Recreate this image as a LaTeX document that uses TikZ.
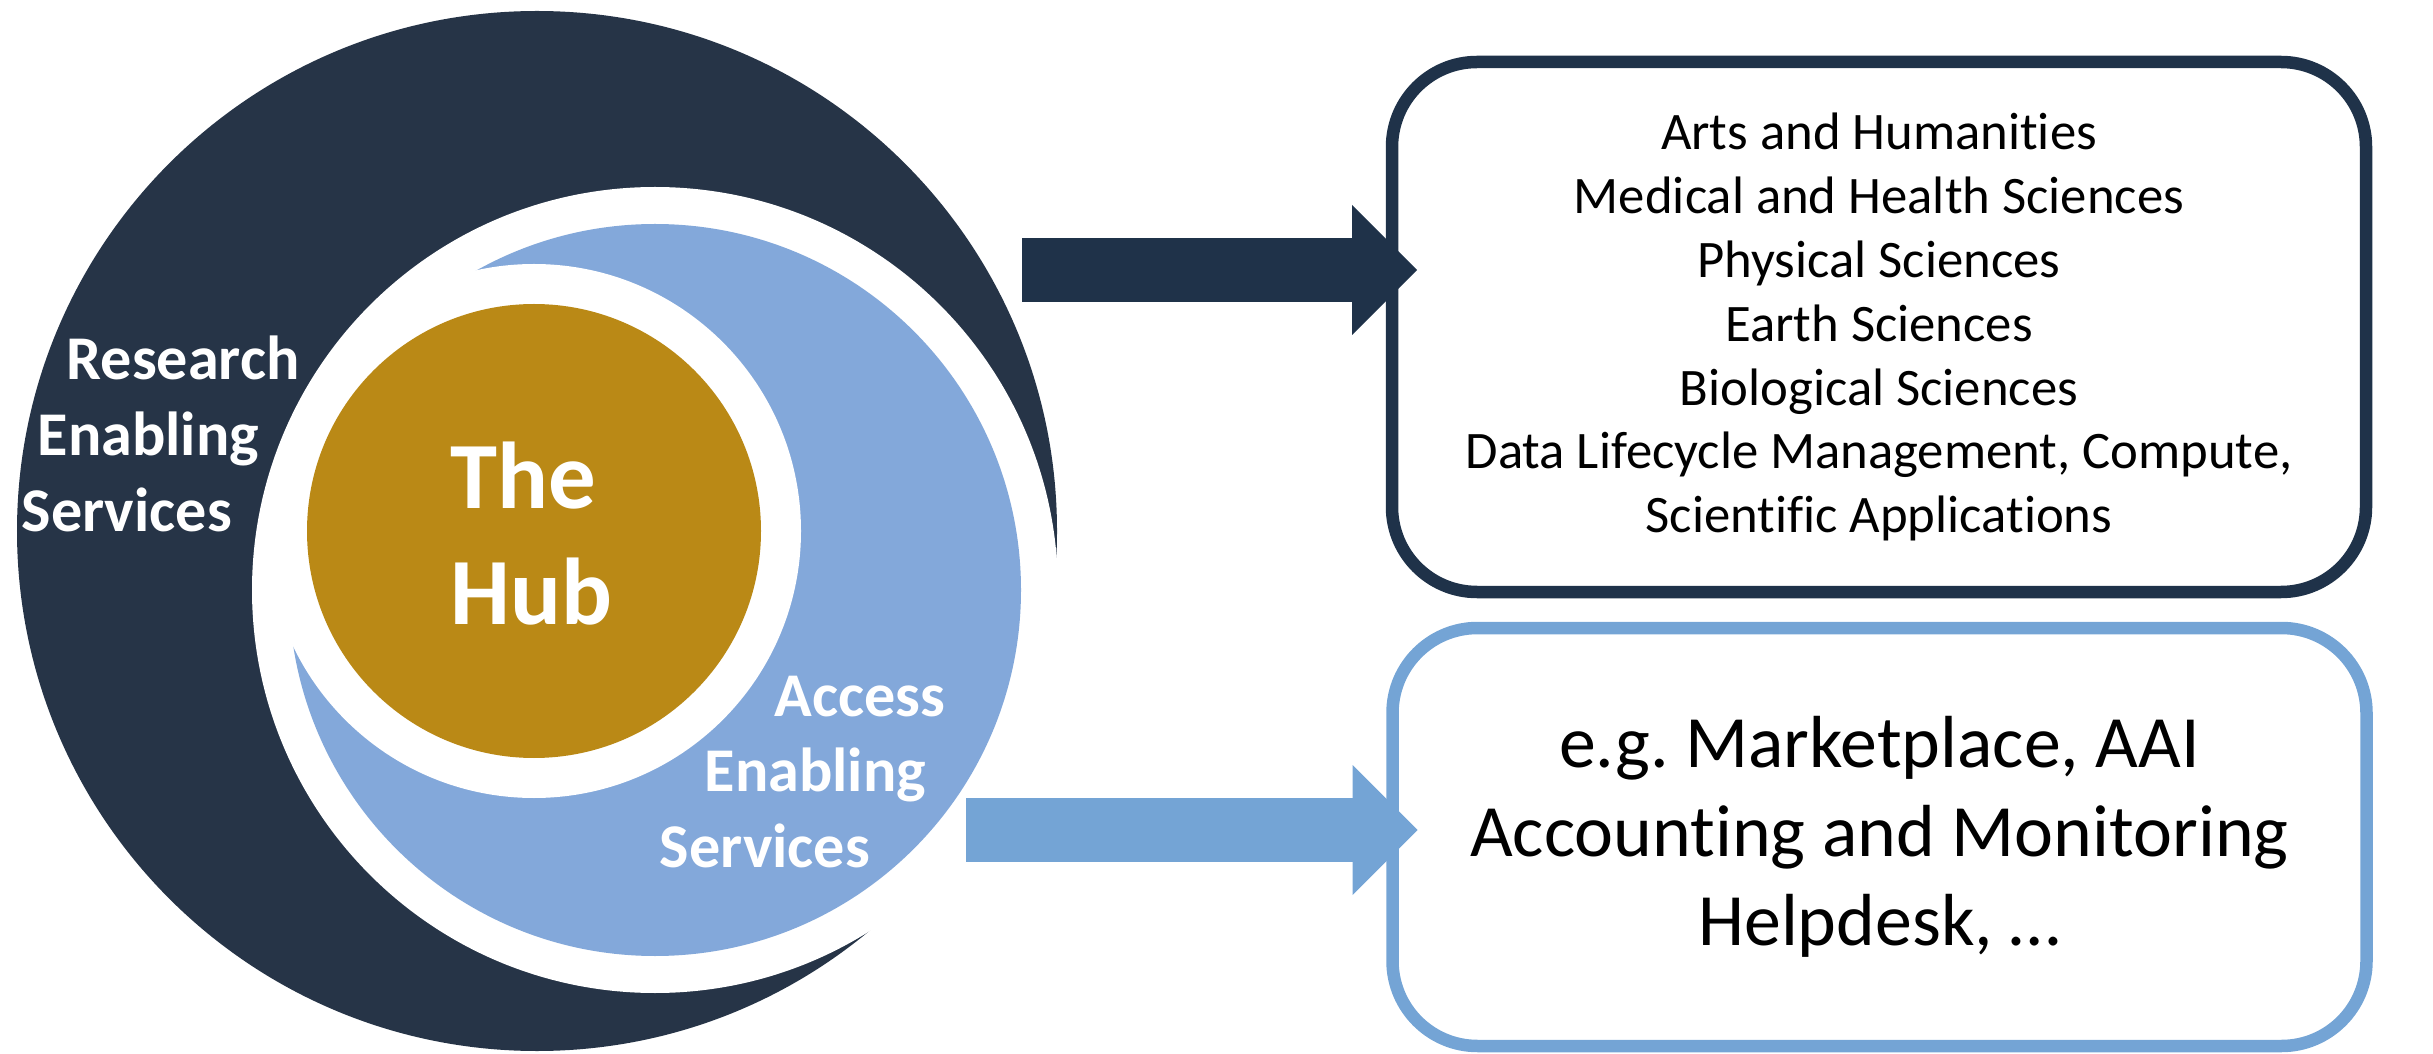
\documentclass[tikz,border=0pt]{standalone}
\usepackage{fontspec}
\setmainfont{Carlito}[Ligatures=NoCommon]
\usepackage{tikz}
\usetikzlibrary{arrows.meta,calc,positioning}
\definecolor{resnavy}{RGB}{38,52,71}
\definecolor{arrnavy}{RGB}{31,50,73}
\definecolor{accblue}{RGB}{131,168,218}
\definecolor{arrblue}{RGB}{116,164,213}
\definecolor{hubgold}{RGB}{186,137,22}
\frenchspacing

\begin{document}
\begin{tikzpicture}[
	ringlabel/.style={text=white,font=\bfseries\fontsize{17.7}{21.6}\selectfont,align=left,inner sep=0pt,anchor=north west},
	listbox/.style={draw,rounded corners=0.85cm,line width=0.125cm,minimum width=9.74cm,align=center,inner sep=0pt,outer sep=0pt},
	fatarrow/.style={line width=0.64cm,-{Triangle[length=0.65cm,width=1.30cm,line width=0pt]}}]
	\useasboundingbox (0,0) rectangle (24.33,10.53);

	\fill[resnavy] (5.37,5.22) circle (5.20);
	\fill[white] (6.55,4.63) circle (4.03);
	\fill[accblue] (6.55,4.63) circle (3.66);
	\fill[white] (5.34,5.22) circle (2.67);
	\fill[hubgold] (5.34,5.22) circle (2.27);

	\node [ringlabel] (research) at (0.21,7.175) {\hspace*{0.45cm}Research\\\hspace*{0.16cm}Enabling\\Services};
	\node [ringlabel] (access) at (6.59,3.78) {\hspace*{1.15cm}Access\\\hspace*{0.45cm}Enabling\\Services};
	\node [ringlabel,font=\bfseries\fontsize{27}{33}\selectfont] (hub) at (4.50,6.12) {The\\Hub};

	\node [listbox,draw=arrnavy,minimum height=5.30cm,font=\fontsize{15}{18.2}\selectfont] (domains) at (18.79,7.26)
		{Arts and Humanities\\Medical and Health Sciences\\Physical Sciences\\Earth Sciences\\Biological Sciences\\Data Lifecycle Management, Compute,\\Scientific Applications};
	\node [listbox,draw=arrblue,minimum height=4.18cm,font=\fontsize{21}{25.3}\selectfont] (common) at (18.795,2.16)
		{e.g. Marketplace, AAI\\Accounting and Monitoring\\Helpdesk, …};

	\coordinate (resout) at (10.22,7.83);
	\coordinate (accout) at (9.66,2.23);
	\draw[fatarrow,arrnavy] (resout) -- ($(resout -| domains.west)+(0.25,0)$);
	\draw[fatarrow,arrblue] (accout) -- ($(accout -| common.west)+(0.25,0)$);
\end{tikzpicture}
\end{document}
